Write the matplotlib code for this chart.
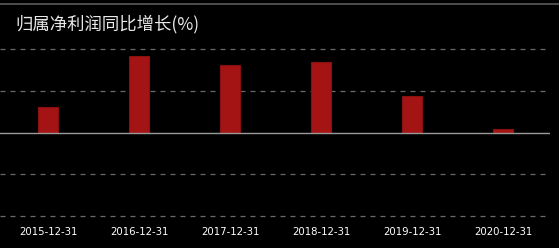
import matplotlib.pyplot as plt
import numpy as np

plt.rcParams['font.family'] = ['Noto Sans CJK SC', 'DejaVu Sans']

dates = ["2015-12-31", "2016-12-31", "2017-12-31", "2018-12-31", "2019-12-31", "2020-12-31"]
growth = [12.4, 36.7, 32.4, 33.8, 17.6, 1.9]
grid_levels = [-40, -20, 20, 40]

W, H = 559, 248
fig = plt.figure(figsize=(W / 100, H / 100), dpi=100, facecolor="black")
ax = fig.add_axes([0, (H - 216) / H, 550 / W, (216 - 49) / H], facecolor="black")

x = np.arange(len(dates))
ax.bar(x, growth, width=0.22, color="#a51414", edgecolor="#8a1010", linewidth=0.8, zorder=3)

for g in grid_levels:
    ax.axhline(g, color="#6a6a6a", linestyle=(0, (4, 4)), linewidth=0.9, clip_on=False, zorder=1)
ax.axhline(0, color="#9a9a9a", linewidth=1.0, zorder=4)

ax.set_xlim(-0.527, 5.516)
ax.set_ylim(-40, 40)
ax.set_xticks(x)
ax.set_xticklabels(dates, color="white", fontsize=7.3, family=["DejaVu Sans"])
ax.tick_params(axis="x", length=0, pad=8)
ax.set_yticks([])
for s in ax.spines.values():
    s.set_visible(False)

fig.add_artist(plt.Line2D([0, 1], [1 - 3.5 / H, 1 - 3.5 / H], color="#5a5a5a", linewidth=1.2))
fig.text(15 / W, 1 - 24 / H, "归属净利润同比增长(%)", color="#e8e8e8", fontsize=12.5,
         va="center", ha="left")

fig.savefig("out.png", dpi=100, facecolor="black")
